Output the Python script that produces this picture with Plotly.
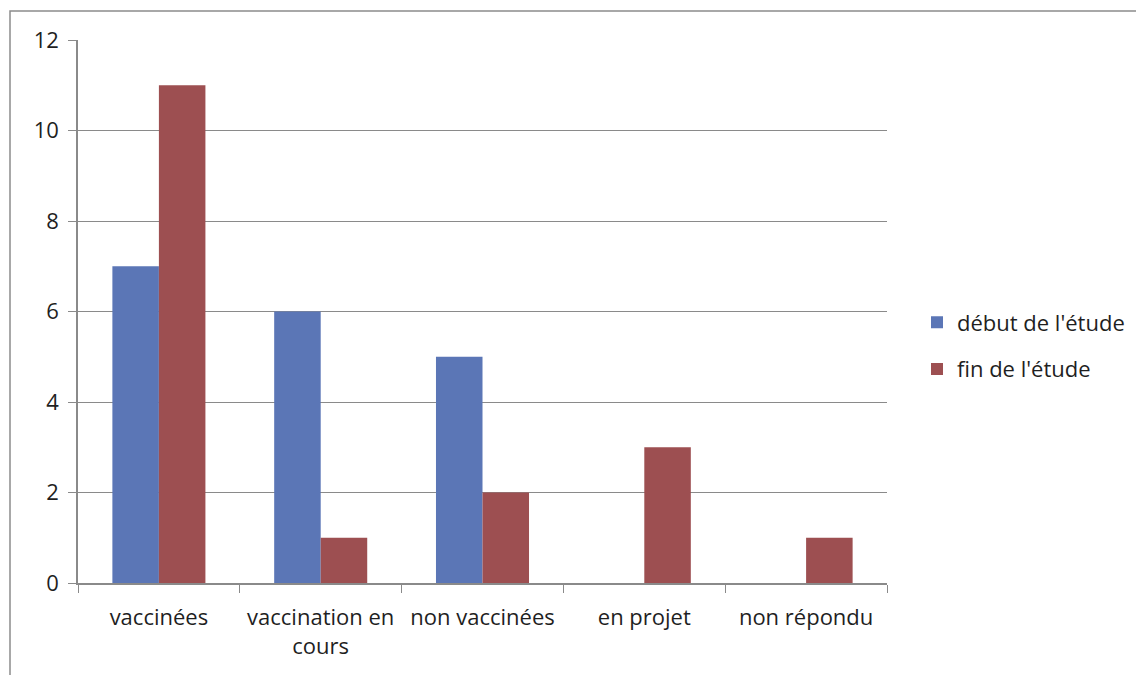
import plotly.graph_objects as go

categories = ["vaccinées", "vaccination en<br>cours", "non vaccinées", "en projet", "non répondu"]
debut = [7, 6, 5, 0, 0]
fin = [11, 1, 2, 3, 1]
series_names = ["début de l'étude", "fin de l'étude"]
colors = ["#5B76B6", "#9D4F51"]
y_ticks = [0, 2, 4, 6, 8, 10, 12]

# page offset (body margin) compensation
OFF = 8
W, H = 1136, 667
L, R, T, B = 78, 887, 40, 583   # plot area in page pixels

fig = go.Figure()
for i, (name, vals) in enumerate(zip(series_names, [debut, fin])):
    fig.add_trace(go.Bar(x=categories, y=vals, name=name, marker_color=colors[i],
                         marker_line_width=0, legendgroup=f"g{i}"))

pw, ph = R - L, B - T
def px(x):
    return (x - L) / pw
def py(y):
    return (B - y) / ph

FS = 22
fig.update_layout(
    width=W, height=H,
    margin=dict(l=L - OFF, r=W - (R - OFF), t=T - OFF, b=H - (B - OFF), pad=0,
                autoexpand=False),
    paper_bgcolor="white", plot_bgcolor="white",
    font=dict(family="Open Sans, Liberation Sans, sans-serif", size=FS, color="#1f1f1f"),
    barmode="group", bargap=0.425, bargroupgap=0,
    showlegend=True,
    legend=dict(x=px(917), y=py(346), xanchor="left", yanchor="middle",
                font=dict(size=FS), traceorder="grouped", tracegroupgap=15,
                itemwidth=30, bgcolor="rgba(0,0,0,0)"),
    xaxis=dict(type="category", tickson="boundaries", ticks="outside", ticklen=8,
               tickcolor="#8a8a8a", showline=True, linecolor="#8a8a8a", linewidth=1.5,
               showgrid=False, tickfont=dict(size=FS), tickangle=0, automargin=False,
               ticklabelstandoff=14, fixedrange=True),
    yaxis=dict(range=[0, 12], tickvals=y_ticks, ticks="outside", ticklen=8,
               tickcolor="#8a8a8a", showline=True, linecolor="#8a8a8a", linewidth=1.5,
               showgrid=True, gridcolor="#8a8a8a", gridwidth=1, zeroline=False,
               tickfont=dict(size=FS), ticklabelstandoff=5, automargin=False),
    shapes=[dict(type="rect", xref="paper", yref="paper",
                 x0=px(10), x1=px(1180), y0=py(720), y1=py(11),
                 line=dict(color="#8c8c8c", width=1.5), fillcolor="rgba(0,0,0,0)",
                 layer="below")],
)

fig.write_html("out.html")
